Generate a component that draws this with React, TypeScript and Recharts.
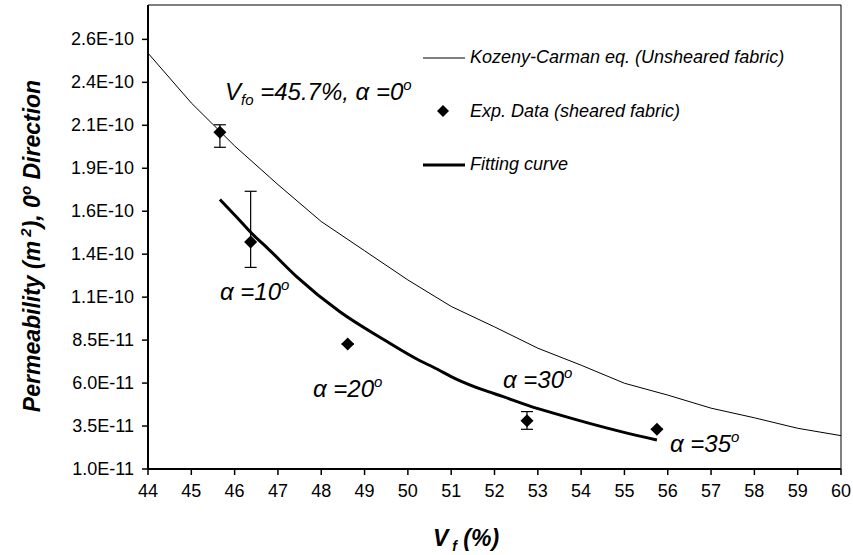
import React from "react";
import {
	ComposedChart,
	ErrorBar,
	Legend,
	Line,
	ReferenceArea,
	Scatter,
	XAxis,
	YAxis,
} from "recharts";

// Kozeny-Carman prediction (unsheared fabric)
const kcVf = [44, 45, 46, 47, 48, 49, 50, 51, 52, 53, 54, 55, 56, 57, 58, 59, 60];
const kcPerm = [
	2.52e-10, 2.23e-10, 1.98e-10, 1.755e-10, 1.54e-10, 1.37e-10, 1.2e-10, 1.046e-10,
	9.27e-11, 8.03e-11, 7.04e-11, 5.99e-11, 5.3e-11, 4.54e-11, 3.98e-11, 3.37e-11,
	2.94e-11,
];

// fitting curve through the sheared data
const fitVf = [
	45.66, 46.05, 46.43, 46.74, 47.43, 48.43, 49.43, 50.28, 50.59, 51.13, 51.74, 52.2,
	52.82, 53.36, 54.13, 54.9, 55.75,
];
const fitPerm = [
	1.668e-10, 1.565e-10, 1.462e-10, 1.39e-10, 1.22e-10, 1.015e-10, 8.55e-11,
	7.3e-11, 6.92e-11, 6.22e-11, 5.6e-11, 5.21e-11, 4.66e-11, 4.25e-11, 3.7e-11,
	3.19e-11, 2.69e-11,
];

// experimental data (sheared fabric), with error bars
const expVf = [45.66, 46.37, 48.61, 52.75, 55.75];
const expPerm = [2.06e-10, 1.421e-10, 8.27e-11, 3.81e-11, 3.31e-11];
const expErrLow = [8.8e-12, 1.48e-11, 0, 5.0e-12, 0];
const expErrHigh = [4.3e-12, 2.95e-11, 0, 5.3e-12, 0];

const xTicks = [44, 45, 46, 47, 48, 49, 50, 51, 52, 53, 54, 55, 56, 57, 58, 59, 60];
const yTicks = [
	1.0e-11, 3.5e-11, 6.0e-11, 8.5e-11, 1.1e-10, 1.35e-10, 1.6e-10, 1.85e-10, 2.1e-10,
	2.35e-10, 2.6e-10,
];
const yTickLabels = [
	"1.0E-11", "3.5E-11", "6.0E-11", "8.5E-11", "1.1E-10", "1.4E-10", "1.6E-10",
	"1.9E-10", "2.1E-10", "2.4E-10", "2.6E-10",
];

const kcData = kcVf.map((vf, i) => ({ vf, k: kcPerm[i] }));
const fitData = fitVf.map((vf, i) => ({ vf, k: fitPerm[i] }));
const expData = expVf.map((vf, i) => ({
	vf,
	k: expPerm[i],
	err: [expErrLow[i], expErrHigh[i]],
}));

const FONT = '"Liberation Sans", Arial, sans-serif';

const Diamond = (props: any) => {
	const { cx, cy } = props;
	const r = 6.5;
	return (
		<polygon
			points={`${cx},${cy - r} ${cx + r},${cy} ${cx},${cy + r} ${cx - r},${cy}`}
			fill="#000"
		/>
	);
};

const XTick = (props: any) => {
	const { x, y, payload } = props;
	return (
		<text x={x} y={y + 14} textAnchor="middle" fontFamily={FONT} fontSize={18} fill="#000">
			{payload.value}
		</text>
	);
};

const YTick = (props: any) => {
	const { x, y, payload } = props;
	const i = yTicks.findIndex((t) => Math.abs(t - payload.value) < 1e-13);
	return (
		<text x={x - 2} y={y + 6} textAnchor="end" fontFamily={FONT} fontSize={18} fill="#000">
			{i >= 0 ? yTickLabels[i] : ""}
		</text>
	);
};

const LegendBox = () => {
	const row: React.CSSProperties = {
		height: 53.5,
		display: "flex",
		alignItems: "center",
		fontFamily: FONT,
		fontStyle: "italic",
		fontSize: 18,
		color: "#000",
		whiteSpace: "nowrap",
	};
	return (
		<div>
			<div style={row}>
				<svg width={47} height={10}>
					<line x1={0} x2={42} y1={5} y2={5} stroke="#000" strokeWidth={1} />
				</svg>
				Kozeny-Carman eq. (Unsheared fabric)
			</div>
			<div style={row}>
				<svg width={47} height={14}>
					<polygon points="20,1 26,7 20,13 14,7" fill="#000" />
				</svg>
				Exp. Data (sheared fabric)
			</div>
			<div style={row}>
				<svg width={47} height={10}>
					<line x1={0} x2={42} y1={5} y2={5} stroke="#000" strokeWidth={3} />
				</svg>
				Fitting curve
			</div>
		</div>
	);
};

const Deg = () => (
	<tspan dy={-10} fontSize={15}>
		o
	</tspan>
);

const App: React.FC = () => {
	const label = {
		fontFamily: FONT,
		fontStyle: "italic" as const,
		fontSize: 24,
		fill: "#000",
	};
	return (
		<div
			style={{
				position: "absolute",
				left: 0,
				top: 0,
				width: 853,
				height: 555,
				background: "#fff",
			}}
		>
			<ComposedChart
				width={853}
				height={555}
				margin={{ top: 5, right: 12, bottom: 56, left: 0 }}
			>
				<XAxis
					dataKey="vf"
					type="number"
					domain={[44, 60]}
					ticks={xTicks}
					allowDataOverflow
					axisLine={{ stroke: "#000", strokeWidth: 2 }}
					tickLine={{ stroke: "#000", strokeWidth: 1.5 }}
					tickSize={6}
					tickMargin={8}
					height={30}
					tick={<XTick />}
				/>
				<YAxis
					dataKey="k"
					type="number"
					domain={[1e-11, 2.8e-10]}
					ticks={yTicks}
					allowDataOverflow
					width={148}
					axisLine={{ stroke: "#000", strokeWidth: 2 }}
					tickLine={{ stroke: "#000", strokeWidth: 1.5 }}
					tickSize={6}
					tickMargin={6}
					tick={<YTick />}
				/>
				<ReferenceArea
					x1={44}
					x2={60}
					y1={1e-11}
					y2={2.8e-10}
					fill="none"
					stroke="#000"
					strokeWidth={1}
				/>
				<Legend
					layout="vertical"
					align="center"
					verticalAlign="middle"
					content={<LegendBox />}
					wrapperStyle={{ left: 423, top: 31, width: 380 }}
				/>
				<Line
					data={kcData}
					dataKey="k"
					type="linear"
					stroke="#000"
					strokeWidth={1}
					dot={false}
					isAnimationActive={false}
				/>
				<Line
					data={fitData}
					dataKey="k"
					type="monotone"
					stroke="#000"
					strokeWidth={3}
					dot={false}
					isAnimationActive={false}
				/>
				<Scatter
					data={expData}
					dataKey="k"
					shape={<Diamond />}
					isAnimationActive={false}
				>
					<ErrorBar
						dataKey="err"
						direction="y"
						width={6}
						stroke="#000"
						strokeWidth={1.2}
						isAnimationActive={false}
					/>
				</Scatter>
			</ComposedChart>
			<svg
				width={853}
				height={555}
				style={{ position: "absolute", left: 0, top: 0, pointerEvents: "none" }}
			>
				<text x={225} y={100} {...label}>
					V
					<tspan dy={5} fontSize={15}>
						fo
					</tspan>
					<tspan dy={-5}> =45.7%, α =0</tspan>
					<Deg />
				</text>
				<text x={220} y={300} {...label}>
					α =10
					<Deg />
				</text>
				<text x={313} y={397} {...label}>
					α =20
					<Deg />
				</text>
				<text x={503} y={388} {...label}>
					α =30
					<Deg />
				</text>
				<text x={670} y={452} {...label}>
					α =35
					<Deg />
				</text>
				<text
					x={433}
					y={546}
					fontFamily={FONT}
					fontStyle="italic"
					fontWeight="bold"
					fontSize={23}
					fill="#000"
				>
					V
					<tspan dy={5} fontSize={14}>
						{" "}f
					</tspan>
					<tspan dy={-5}> (%)</tspan>
				</text>
				<text
					transform="translate(40,246) rotate(-90)"
					textAnchor="middle"
					fontFamily={FONT}
					fontStyle="italic"
					fontWeight="bold"
					fontSize={23}
					fill="#000"
				>
					Permeability (m
					<tspan dy={-9} fontSize={15}>
						{"  "}2
					</tspan>
					<tspan dy={9}>), 0</tspan>
					<tspan dy={-9} fontSize={15}>
						o
					</tspan>
					<tspan dy={9}> Direction</tspan>
				</text>
			</svg>
		</div>
	);
};

export default App;
